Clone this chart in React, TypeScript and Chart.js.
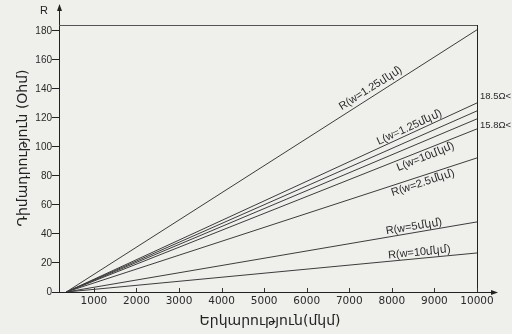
import React, { useEffect, useRef } from 'react';
import { Chart, registerables } from 'chart.js';

Chart.register(...registerables);

// ---- data ----
const xTicks = [1000, 2000, 3000, 4000, 5000, 6000, 7000, 8000, 9000, 10000];
const yTicks = [0, 20, 40, 60, 80, 100, 120, 140, 160, 180];
const lineStartX = 350;
const lineEndX = 10000;
const seriesNames = ['R(w=1.25)', 'L(w=1.25)', 'L(w=2.5)', 'L(w=5)', 'L(w=10)', 'R(w=2.5)', 'R(w=5)', 'R(w=10)'];
const seriesEndValues = [180.7, 130.3, 124.8, 119.3, 112.4, 92.4, 48.3, 26.9];
const labelTexts = ['R(w=1.25մկմ)', 'L(w=1.25մկմ)', 'L(w=10մկմ)', 'R(w=2.5մկմ)', 'R(w=5մկմ)', 'R(w=10մկմ)'];
const labelSeries = [0, 1, 4, 5, 6, 7];
const labelXValues = [7600, 8470, 8730, 8680, 8540, 8660];
const labelOffsets = [-8, -6, 7, 7, -6, -6]; // negative: above the line
const sideTexts = ['18.5Ω<', '15.8Ω<'];
const sideValues = [134.5, 115];
const xTitle = 'Երկարություն(մկմ)';
const yTitle = 'Դիմադրություն (Օհմ)';
const yArrowLabel = 'R';

const W = 512;
const H = 334;

export default function App() {
  const ref = useRef<HTMLCanvasElement | null>(null);

  useEffect(() => {
    document.body.style.margin = '0';
    const canvas = ref.current;
    if (!canvas) return;

    const overlay = {
      id: 'overlay',
      beforeDraw(chart: any) {
        const c = chart.ctx;
        c.save();
        c.fillStyle = '#efefec';
        c.fillRect(0, 0, chart.width, chart.height);
        c.restore();
      },
      afterDraw(chart: any) {
        const c = chart.ctx;
        const xs = chart.scales.x;
        const ys = chart.scales.y;
        const a = chart.chartArea;
        c.save();
        // top border and right border
        c.strokeStyle = '#555';
        c.lineWidth = 1;
        c.beginPath();
        c.moveTo(a.left, a.top + 0.5);
        c.lineTo(a.right, a.top + 0.5);
        c.stroke();
        c.strokeStyle = '#222';
        c.beginPath();
        c.moveTo(a.right + 0.5, a.top);
        c.lineTo(a.right + 0.5, a.bottom);
        c.stroke();
        // y axis arrow
        c.beginPath();
        c.moveTo(a.left + 0.5, a.top);
        c.lineTo(a.left + 0.5, 6);
        c.stroke();
        c.fillStyle = '#222';
        c.beginPath();
        c.moveTo(a.left + 0.5, 4);
        c.lineTo(a.left - 2, 11);
        c.lineTo(a.left + 3, 11);
        c.closePath();
        c.fill();
        c.font = '11px "Liberation Sans", Arial, sans-serif';
        c.textAlign = 'center';
        c.textBaseline = 'middle';
        c.fillText(yArrowLabel, 44, 11);
        // x axis arrow
        c.beginPath();
        c.moveTo(a.right, a.bottom + 0.5);
        c.lineTo(494, a.bottom + 0.5);
        c.stroke();
        c.beginPath();
        c.moveTo(498, a.bottom + 0.5);
        c.lineTo(491, a.bottom - 2);
        c.lineTo(491, a.bottom + 3);
        c.closePath();
        c.fill();
        // x tick marks (inward)
        c.strokeStyle = '#333';
        xTicks.forEach((v) => {
          const px = Math.round(xs.getPixelForValue(v)) + 0.5;
          c.beginPath();
          c.moveTo(px, a.bottom);
          c.lineTo(px, a.bottom - 4);
          c.stroke();
        });
        // line labels
        c.fillStyle = '#2a2a2a';
        c.font = '11px "Liberation Sans", Arial, sans-serif';
        labelTexts.forEach((t, i) => {
          const si = labelSeries[i];
          const endV = seriesEndValues[si];
          const lx = labelXValues[i];
          const v = (endV * (lx - lineStartX)) / (lineEndX - lineStartX);
          const x0 = xs.getPixelForValue(lineStartX);
          const y0 = ys.getPixelForValue(0);
          const x1 = xs.getPixelForValue(lineEndX);
          const y1 = ys.getPixelForValue(endV);
          const ang = Math.atan2(y1 - y0, x1 - x0);
          c.save();
          c.translate(xs.getPixelForValue(lx), ys.getPixelForValue(v));
          c.rotate(ang);
          c.textAlign = 'center';
          c.textBaseline = 'middle';
          c.fillText(t, 0, labelOffsets[i]);
          c.restore();
        });
        // side texts
        c.font = '9.5px "Liberation Sans", Arial, sans-serif';
        c.textAlign = 'left';
        c.textBaseline = 'middle';
        sideTexts.forEach((t, i) => {
          const py = ys.getPixelForValue(sideValues[i]);
          c.fillText(t, a.right + 3, py);
        });
        // axis titles
        c.fillStyle = '#222';
        c.font = '14px "DejaVu Sans", sans-serif';
        c.textAlign = 'center';
        c.textBaseline = 'middle';
        c.fillText(xTitle, 270, 321);
        c.save();
        c.translate(23, 148);
        c.rotate(-Math.PI / 2);
        c.fillText(yTitle, 0, 0);
        c.restore();
        c.restore();
      },
    };

    const datasets = seriesNames.map((name, i) => ({
      label: name,
      data: [
        { x: lineStartX, y: 0 },
        { x: lineEndX, y: seriesEndValues[i] },
      ],
      borderColor: '#3c3c3c',
      borderWidth: 1,
      pointRadius: 0,
      fill: false,
      tension: 0,
    }));

    const chart = new Chart(canvas, {
      type: 'line',
      data: { datasets },
      options: {
        animation: false,
        responsive: false,
        devicePixelRatio: 1,
        layout: { padding: { top: 25, right: 35, left: 0, bottom: 0 } },
        plugins: { legend: { display: false }, tooltip: { enabled: false } },
        scales: {
          x: {
            type: 'linear',
            min: 180,
            max: 10000,
            afterFit: (s: any) => {
              s.height = 42;
            },
            afterBuildTicks: (s: any) => {
              s.ticks = xTicks.map((v) => ({ value: v }));
            },
            grid: { drawOnChartArea: false, drawTicks: false },
            border: { display: true, color: '#222', width: 1 },
            ticks: {
              color: '#2a2a2a',
              padding: 3,
              maxRotation: 0,
              autoSkip: false,
              font: { family: '"DejaVu Sans", sans-serif', size: 10.5 },
              callback: (v: any) => String(v),
            },
          },
          y: {
            type: 'linear',
            min: 0,
            max: 184,
            afterFit: (s: any) => {
              s.width = 59;
            },
            afterBuildTicks: (s: any) => {
              s.ticks = yTicks.map((v) => ({ value: v }));
            },
            grid: { drawOnChartArea: false, tickLength: 7, color: '#222' },
            border: { display: true, color: '#222', width: 1 },
            ticks: {
              color: '#2a2a2a',
              padding: 0,
              autoSkip: false,
              font: { family: '"Liberation Sans", Arial, sans-serif', size: 10 },
              callback: (v: any) => String(v),
            },
          },
        },
      },
      plugins: [overlay],
    });

    return () => chart.destroy();
  }, []);

  return (
    <div style={{ position: 'absolute', left: 0, top: 0, width: W, height: H, background: '#efefec' }}>
      <canvas ref={ref} width={W} height={H} style={{ width: W, height: H, display: 'block' }} />
    </div>
  );
}
